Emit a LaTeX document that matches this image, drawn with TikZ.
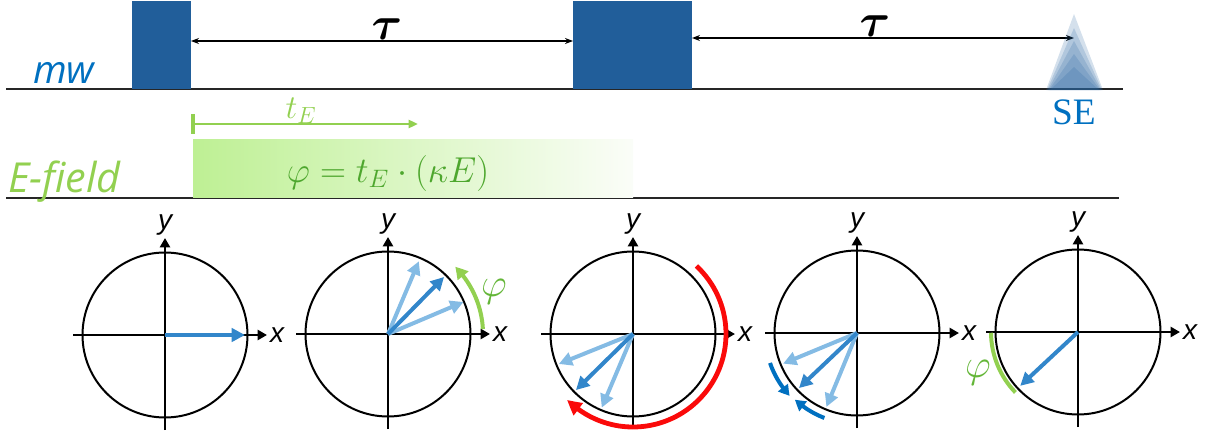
\RequirePackage{fix-cm}
\documentclass[tikz,border=0pt]{standalone}
\usepackage{amsmath}
\usepackage{fontspec}
\newfontfamily\osans{Open Sans}
\newfontfamily\arialf{Liberation Sans}
\newfontfamily\timesf{Liberation Serif}
\usetikzlibrary{arrows.meta,calc,bending}
\definecolor{mwblue}{RGB}{0,112,192}
\definecolor{blockblue}{RGB}{33,94,154}
\definecolor{seblue}{RGB}{40,100,160}
\definecolor{egreen}{RGB}{146,208,80}
\definecolor{efill}{RGB}{190,240,148}
\definecolor{eqgreen}{RGB}{78,167,46}
\definecolor{phigreen}{RGB}{100,182,56}
\definecolor{vecblue}{RGB}{50,134,202}
\definecolor{lightvec}{RGB}{132,187,228}
\definecolor{arcred}{RGB}{250,10,10}
\newcommand\axesparts[1]{%
  \node[ring] (#1) at (0,0) {};
  \coordinate (#1l) at (-92,0); \coordinate (#1r) at (102,0);
  \coordinate (#1b) at (0,-95); \coordinate (#1t) at (0,97);
  \draw[axis] (#1l) -- (#1r);
  \draw[axis] (#1b) -- (#1t);
  \node[axlabel] (#1x) at (112,0) {x};
  \node[axlabel] (#1y) at (0,110) {y};
}
\begin{document}
\begin{tikzpicture}[x=0.75pt, y=-0.75pt,
  blockbox/.style={fill=blockblue, draw=none, inner sep=0pt, outer sep=0pt, anchor=north west},
  rule/.style={line width=1.4pt, draw=black!85},
  tauarrow/.style={{Stealth[length=6pt,width=4.5pt]}-{Stealth[length=6pt,width=4.5pt]}, line width=1.1pt},
  taulabel/.style={font=\fontsize{35}{38}\selectfont, inner sep=0pt},
  ring/.style={circle, draw, line width=1.5pt, minimum size=123.75pt, inner sep=0pt, outer sep=0pt},
  axis/.style={-{Triangle[length=7pt,width=7.5pt]}, line width=2pt},
  axlabel/.style={font=\arialf\itshape\fontsize{21}{24}\selectfont, inner sep=0pt},
  vec/.style={-{Triangle[length=10pt,width=10pt]}, line width=3pt, draw=vecblue},
  lvec/.style={-{Triangle[length=10pt,width=10pt]}, line width=3pt, draw=lightvec},
  phil/.style={text=phigreen, font=\fontsize{30}{34}\selectfont, inner sep=0pt},
  selayer/.style={fill=seblue, fill opacity=0.2, draw=none}
]
\useasboundingbox (0,0) rectangle (1207,432);

% ---- timing rows
\draw[rule] (6,89) -- (1123,89);
\draw[rule] (6,198) -- (1119,198);

\node[blockbox, minimum width=44.25pt, minimum height=66pt] (b1) at (132,1) {};
\node[blockbox, minimum width=89.25pt, minimum height=66pt] (b2) at (573,1) {};

\coordinate (tauA) at (380,41);
\coordinate (tauB) at (880,38);
\coordinate (seTip) at (1074,38);
\draw[tauarrow] (b1.east |- tauA) -- (b2.west |- tauA);
\draw[tauarrow] (b2.east |- tauB) -- (seTip);
\node[taulabel] (tau1) at (387,29) {$\boldsymbol{\tau}$};
\node[taulabel] (tau2) at (875,26) {$\boldsymbol{\tau}$};

% spin echo
\fill[selayer] (1046,90) -- (1074,14) -- (1103,90) -- cycle;
\fill[selayer] (1047,90) -- (1074,28) -- (1102,90) -- cycle;
\fill[selayer] (1048,90) -- (1074,41) -- (1101,90) -- cycle;
\fill[selayer] (1049,90) -- (1074,54) -- (1100,90) -- cycle;
\fill[selayer] (1050,90) -- (1074,67) -- (1099,90) -- cycle;
\node[text=mwblue, font=\timesf\fontsize{28}{32}\selectfont, inner sep=0pt] (se) at (1074,112) {SE};

\node[anchor=base west, inner sep=0pt, text=mwblue, font=\osans\itshape\fontsize{29}{34}\selectfont] (mw) at (33,83) {mw};

% E-field
\shade[left color=efill, right color=white!96!egreen] (193,139) rectangle (633,197);
\draw[egreen, line width=3pt] (193,114) -- (193,134);
\coordinate (teS) at (193,124);
\coordinate (teE) at (418,124);
\draw[egreen, line width=1.7pt, -{Triangle[length=7pt,width=6pt]}] (teS) -- (teE);
\node[text=egreen, font=\fontsize{25}{28}\selectfont, inner sep=0pt] (te) at (301,111) {$t_E$};
\node[text=eqgreen, font=\fontsize{27}{30}\selectfont, inner sep=0pt] (eq) at (388,173) {$\varphi = t_E\cdot(\kappa E)$};
\node[anchor=base west, inner sep=0pt, text=egreen, font=\osans\itshape\fontsize{31}{34}\selectfont] (ef) at (8,192) {E-field};

% ---- phase diagrams
\begin{scope}[shift={(165,335)}, y=0.75pt]
  \axesparts{c1}
  \draw[vec] (c1.center) -- (0:80);
\end{scope}

\begin{scope}[shift={(388,334)}, y=0.75pt]
  \axesparts{c2}
  \draw[lvec] (c2.center) -- (23:82);
  \draw[lvec] (c2.center) -- (67:79);
  \draw[vec] (c2.center) -- (45.5:80);
  \draw[egreen, line width=3pt, -{Triangle[bend,length=9pt,width=10pt]}] (3:95) arc[start angle=3, end angle=45, radius=95];
  \node[phil] (phi2) at (106,42) {$\varphi$};
\end{scope}

\begin{scope}[shift={(633,334)}, y=0.75pt]
  \axesparts{c3}
  \draw[lvec] (c3.center) -- (202:80);
  \draw[lvec] (c3.center) -- (247:80);
  \draw[vec] (c3.center) -- (224.5:80);
  \draw[arcred, line width=3.6pt, -{Triangle[bend,length=11pt,width=11pt]}] (47:93) arc[start angle=47, end angle=-135, radius=93];
\end{scope}

\begin{scope}[shift={(857,333)}, y=0.75pt]
  \axesparts{c4}
  \draw[lvec] (c4.center) -- (202.5:80);
  \draw[lvec] (c4.center) -- (247.5:80);
  \draw[vec] (c4.center) -- (223.5:80);
  \draw[mwblue, line width=3pt, -{Triangle[bend,length=8pt,width=9pt]}] (199:92) arc[start angle=199, end angle=223, radius=92];
  \draw[mwblue, line width=3pt, -{Triangle[bend,length=8pt,width=9pt]}] (249:91) arc[start angle=249, end angle=227, radius=91];
\end{scope}

\begin{scope}[shift={(1078,332)}, y=0.75pt]
  \axesparts{c5}
  \draw[vec] (c5.center) -- (223:79);
  \draw[egreen, line width=3pt] (180.5:87) arc[start angle=180.5, end angle=224, radius=87];
  \node[phil] (phi5) at (-100,-41) {$\varphi$};
\end{scope}
\end{tikzpicture}
\end{document}
